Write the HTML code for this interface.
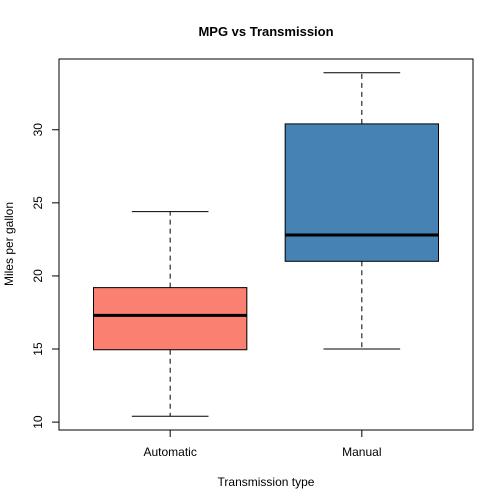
<!DOCTYPE html>
<html><head><meta charset="utf-8"><style>
body{margin:0;background:#fff}
svg{display:block;font-family:"Liberation Sans",Arial,sans-serif}
</style></head><body>
<svg id="c" width="504" height="504" viewBox="0 0 504 504">
<text x="266" y="36" text-anchor="middle" font-size="13" font-weight="bold">MPG vs Transmission</text>
<text x="266" y="486" text-anchor="middle" font-size="12">Transmission type</text>
<text transform="translate(13,244) rotate(-90)" text-anchor="middle" font-size="12">Miles per gallon</text>
<rect x="59" y="59" width="414" height="371" fill="none" stroke="#000"/>
<g id="marks"></g>
</svg>
<script>
const categories=["Automatic","Manual"];
const mins=[10.4,15.0];
const q1s=[14.95,21.0];
const medians=[17.3,22.8];
const q3s=[19.2,30.4];
const maxs=[24.4,33.9];
const colors=["#fa8072","#4682b4"];
const yTicks=[10,15,20,25,30];
const NS="http://www.w3.org/2000/svg";
const svg=document.getElementById('c');
const g=document.getElementById('marks');
const yMin=9.46,yMax=34.84;
function y(v){return 430-(v-yMin)/(yMax-yMin)*371;}
function x(i){return 59+(i+1-0.42)/(2.58-0.42)*414;}
const ux=414/2.16;
function el(tag,a,parent){const e=document.createElementNS(NS,tag);for(const k in a)e.setAttribute(k,a[k]);(parent||g).appendChild(e);return e;}
categories.forEach((c,i)=>{
  const cx=x(i),hw=0.4*ux,cw=0.2*ux;
  let e;
  e=el('line',{x1:cx,x2:cx,y1:y(q3s[i]),y2:y(maxs[i]),stroke:'#000','stroke-dasharray':'5,4'});
  
  
  e=el('line',{x1:cx,x2:cx,y1:y(q1s[i]),y2:y(mins[i]),stroke:'#000','stroke-dasharray':'5,4'});
  
  
  e=el('line',{x1:cx-cw,x2:cx+cw,y1:y(maxs[i]),y2:y(maxs[i]),stroke:'#000'});
  
  
  e=el('line',{x1:cx-cw,x2:cx+cw,y1:y(mins[i]),y2:y(mins[i]),stroke:'#000'});
  
  
  e=el('rect',{x:cx-hw,y:y(q3s[i]),width:2*hw,height:y(q1s[i])-y(q3s[i]),fill:colors[i],stroke:'#000'});
  
  
  e=el('line',{x1:cx-hw,x2:cx+hw,y1:y(medians[i]),y2:y(medians[i]),stroke:'#000','stroke-width':3});
  
  
  e=el('line',{x1:cx,x2:cx,y1:430,y2:437,stroke:'#000'});
  
  
  e=el('text',{x:cx,y:456,'text-anchor':'middle','font-size':12});
  e.textContent=c;
  
  
});
let ax=el('line',{x1:59,x2:59,y1:y(yTicks[0]),y2:y(yTicks[yTicks.length-1]),stroke:'#000'});


yTicks.forEach(t=>{
  let e=el('line',{x1:52,x2:59,y1:y(t),y2:y(t),stroke:'#000'});
  
  
  e=el('text',{transform:`translate(42,${y(t)}) rotate(-90)`,'text-anchor':'middle','font-size':12});
  e.textContent=t;
  
  
});
</script>
</body></html>
